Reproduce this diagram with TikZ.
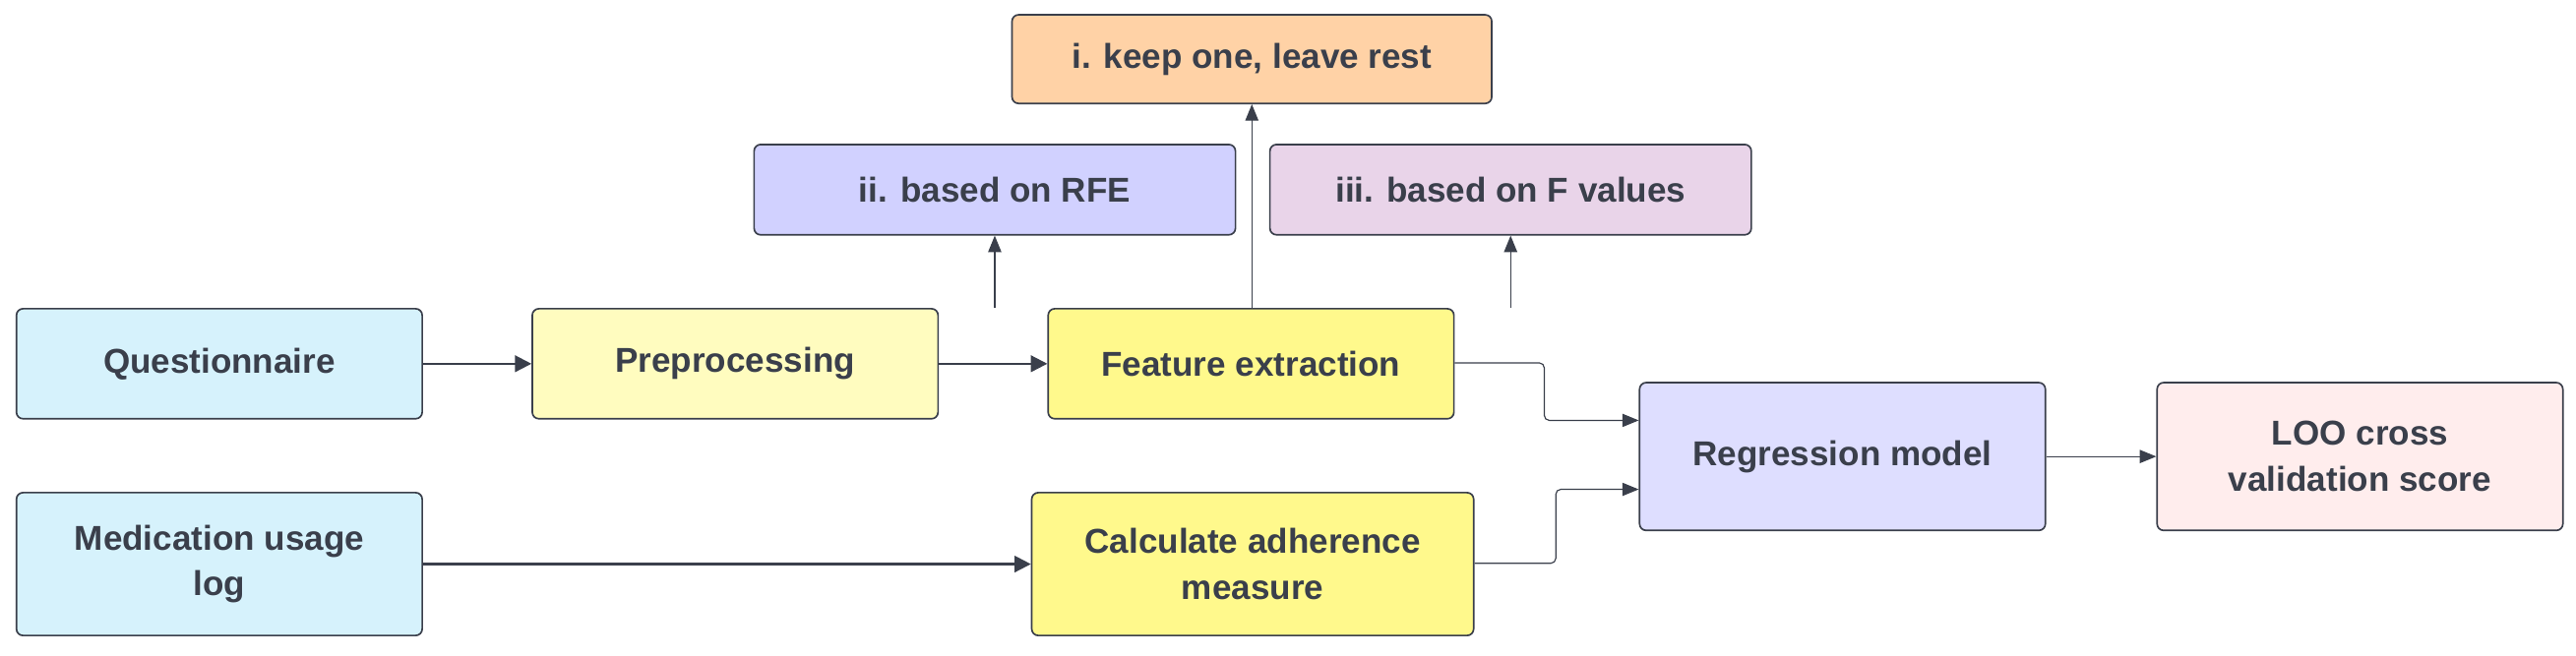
\documentclass[tikz,border=0pt]{standalone}
\usepackage{fontspec}
\setmainfont{Liberation Sans}
\usetikzlibrary{arrows.meta}
\definecolor{ink}{HTML}{3A3F4B}
\begin{document}
\begin{tikzpicture}[x=1pt,y=-1pt,
  box/.style={draw=ink,line width=1pt,rounded corners=4pt,text=ink,align=center,font=\fontsize{21}{28}\selectfont\bfseries,inner sep=0pt},
  arr/.style={draw=ink,line width=1.3pt,-{Triangle[length=10pt,width=10pt]}},
  thin/.style={draw=ink,line width=0.7pt,-{Triangle[length=10pt,width=8pt]},rounded corners=3pt}]
\useasboundingbox (0,0) rectangle (1568,399);
\newcommand\bx[6]{\node[box,fill=#6,minimum width={#3-#2},minimum height={#5-#4}] (#1) at ({(#2+#3)/2},{(#4+#5)/2})}
\bx{q}{10}{257}{188}{255}{cyan!16!white}{Questionnaire};
\bx{p}{324}{571}{188}{255}{yellow!25!white}{Preprocessing};
\bx{f}{638}{885}{188}{255}{yellow!45!white}{Feature extraction};
\bx{m}{10}{257}{300}{387}{cyan!16!white}{Medication usage\\log};
\bx{c}{628}{897}{300}{387}{yellow!45!white}{Calculate adherence\\measure};
\bx{r}{998}{1245}{233}{323}{blue!13!white}{Regression model};
\bx{l}{1313}{1560}{233}{323}{red!7!white}{LOO cross\\validation score};
\bx{i}{616}{908}{9}{63}{orange!35!white}{i. keep one, leave rest};
\bx{ii}{459}{752}{88}{143}{blue!18!white}{ii. based on RFE};
\bx{iii}{773}{1066}{88}{143}{violet!17!white}{iii. based on F values};
\draw[arr] (q) -- (p);
\draw[arr] (p) -- (f);
\draw[arr] (m.east) -- (c.west|-m.east);
\draw[thin] (f.north-|ii) ++(0,0) coordinate (a1) -- (ii.south);
\draw[thin] (f.north-|i) -- (i.south);
\draw[thin] (f.north-|iii) -- (iii.south);
\draw[thin] (f.east|-0,221) -- (940,221) -- (940,256) -- (r.west|-0,256);
\draw[thin] (c.east|-0,343) -- (947,343) -- (947,298) -- (r.west|-0,298);
\draw[thin] (r) -- (l);
\end{tikzpicture}
\end{document}
